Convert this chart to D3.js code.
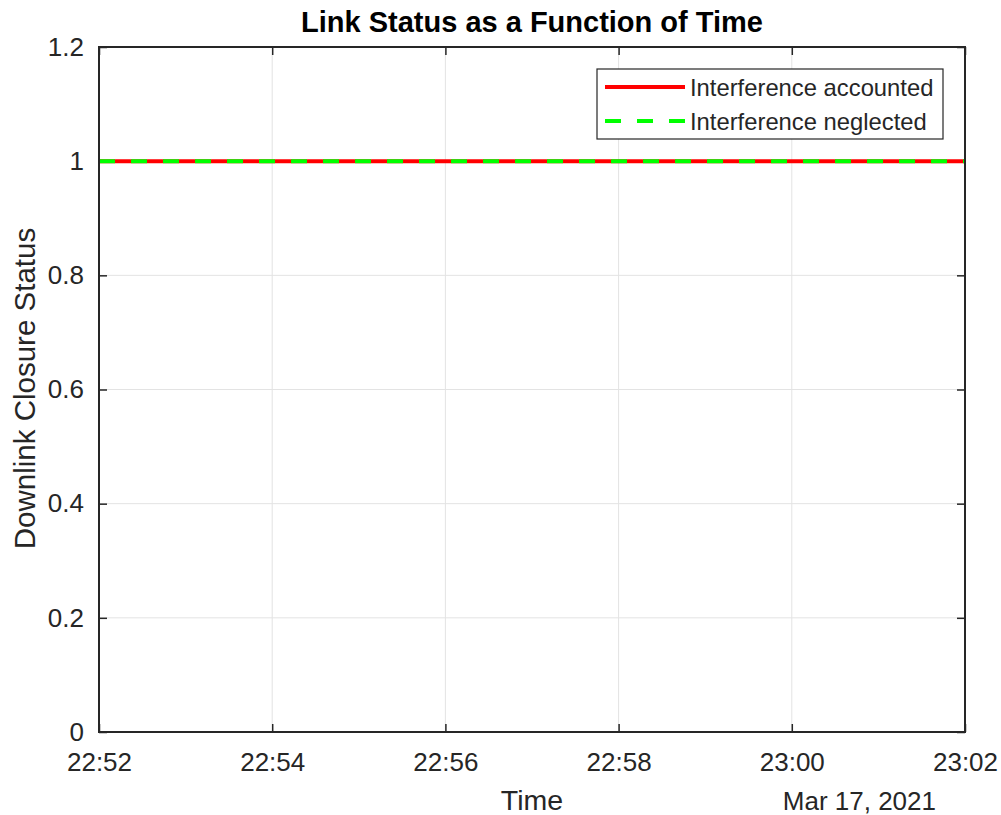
<!DOCTYPE html>
<html>
<head>
<meta charset="utf-8">
<script src="https://cdn.jsdelivr.net/npm/d3@7"></script>
<style>
  html, body { margin: 0; padding: 0; background: #fff; }
  svg { display: block; font-family: Arial, "Liberation Sans", Helvetica, sans-serif; }
</style>
</head>
<body>
<svg id="chart" width="1001" height="815"></svg>
<script>
// ---- Data ----
const times = [
  "2021-03-17T22:52:00Z", "2021-03-17T22:53:00Z", "2021-03-17T22:54:00Z",
  "2021-03-17T22:55:00Z", "2021-03-17T22:56:00Z", "2021-03-17T22:57:00Z",
  "2021-03-17T22:58:00Z", "2021-03-17T22:59:00Z", "2021-03-17T23:00:00Z",
  "2021-03-17T23:01:00Z", "2021-03-17T23:02:00Z"
];
const statusAccounted = [1, 1, 1, 1, 1, 1, 1, 1, 1, 1, 1];
const statusNeglected = [1, 1, 1, 1, 1, 1, 1, 1, 1, 1, 1];
const seriesNames = ["Interference accounted", "Interference neglected"];
const yTickValues = [0, 0.2, 0.4, 0.6, 0.8, 1, 1.2];
const yTickLabels = ["0", "0.2", "0.4", "0.6", "0.8", "1", "1.2"];
const xDomain = ["2021-03-17T22:52:00Z", "2021-03-17T23:02:00Z"];
const dateLabel = "Mar 17, 2021";
const titleText = "Link Status as a Function of Time";
const xLabelText = "Time";
const yLabelText = "Downlink Closure Status";

// ---- Layout ----
const W = 1001, H = 815;
const margin = { left: 99, right: 36, top: 47, bottom: 83 };
const iw = W - margin.left - margin.right;
const ih = H - margin.top - margin.bottom;
const axisColor = "#262626";
const gridColor = "#e3e3e3";

const svg = d3.select("#chart");
const g = svg.append("g").attr("transform", `translate(${margin.left},${margin.top})`);

const x = d3.scaleUtc().domain(xDomain.map(d => new Date(d))).range([0, iw]);
const y = d3.scaleLinear().domain([0, 1.2]).range([ih, 0]);
const xTicks = x.ticks(d3.utcMinute.every(2));
const fmt = d3.utcFormat("%H:%M");

// grid
g.append("g").selectAll("line").data(xTicks).join("line")
  .attr("x1", d => x(d)).attr("x2", d => x(d)).attr("y1", 0).attr("y2", ih)
  .attr("stroke", gridColor).attr("stroke-width", 1);
g.append("g").selectAll("line").data(yTickValues).join("line")
  .attr("x1", 0).attr("x2", iw).attr("y1", d => y(d)).attr("y2", d => y(d))
  .attr("stroke", gridColor).attr("stroke-width", 1);

// axes (ticks inward, box)
const tickLen = 8;
const xAxisB = d3.axisBottom(x).tickValues(xTicks).tickFormat(fmt).tickSizeInner(-tickLen).tickSizeOuter(0).tickPadding(21);
const xAxisT = d3.axisTop(x).tickValues(xTicks).tickFormat("").tickSizeInner(-tickLen).tickSizeOuter(0);
const yAxisL = d3.axisLeft(y).tickValues(yTickValues).tickFormat((d, i) => yTickLabels[i]).tickSizeInner(-tickLen).tickSizeOuter(0).tickPadding(15);
const yAxisR = d3.axisRight(y).tickValues(yTickValues).tickFormat("").tickSizeInner(-tickLen).tickSizeOuter(0);

function styleAxis(sel) {
  sel.select(".domain").remove();
  sel.selectAll(".tick line").attr("stroke", axisColor).attr("stroke-width", 1.5);
  sel.selectAll(".tick text").attr("fill", axisColor).style("font-size", "26px");
}
g.append("g").attr("transform", `translate(0,${ih})`).call(xAxisB).call(styleAxis);
g.append("g").call(xAxisT).call(styleAxis);
g.append("g").call(yAxisL).call(styleAxis);
g.append("g").attr("transform", `translate(${iw},0)`).call(yAxisR).call(styleAxis);

// lines
const dataA = times.map((t, i) => ({ t: new Date(t), v: statusAccounted[i] }));
const dataN = times.map((t, i) => ({ t: new Date(t), v: statusNeglected[i] }));
const line = d3.line().x(d => x(d.t)).y(d => y(d.v));
g.append("path").datum(dataA).attr("d", line)
  .attr("fill", "none").attr("stroke", "#ff0000").attr("stroke-width", 4);
g.append("path").datum(dataN).attr("d", line)
  .attr("fill", "none").attr("stroke", "#00ff00").attr("stroke-width", 4)
  .attr("stroke-dasharray", "16,16");

// box
g.append("rect").attr("x", 0).attr("y", 0).attr("width", iw).attr("height", ih)
  .attr("fill", "none").attr("stroke", axisColor).attr("stroke-width", 2);

// title and labels
svg.append("text").attr("x", margin.left + iw / 2).attr("y", 32)
  .attr("text-anchor", "middle").style("font-size", "29px").style("font-weight", "bold")
  .attr("fill", "#000").text(titleText);
svg.append("text").attr("x", margin.left + iw / 2).attr("y", 810)
  .attr("text-anchor", "middle").style("font-size", "28.5px")
  .attr("fill", axisColor).text(xLabelText);
svg.append("text").attr("x", 936).attr("y", 810)
  .attr("text-anchor", "end").style("font-size", "26px")
  .attr("fill", axisColor).text(dateLabel);
svg.append("text").attr("transform", `translate(35,${margin.top + ih / 2 - 1}) rotate(-90)`)
  .attr("text-anchor", "middle").style("font-size", "29.5px")
  .attr("fill", axisColor).text(yLabelText);

// legend
const lg = svg.append("g").attr("transform", "translate(597,69)");
lg.append("rect").attr("width", 346).attr("height", 70)
  .attr("fill", "#fff").attr("stroke", axisColor).attr("stroke-width", 1.2);
const entries = [
  { name: seriesNames[0], color: "#ff0000", dash: null, y: 18 },
  { name: seriesNames[1], color: "#00ff00", dash: "16,16", y: 52 }
];
entries.forEach(e => {
  lg.append("line").attr("x1", 8).attr("x2", 88).attr("y1", e.y).attr("y2", e.y)
    .attr("stroke", e.color).attr("stroke-width", 4)
    .attr("stroke-dasharray", e.dash);
  lg.append("text").attr("x", 93).attr("y", e.y).attr("dy", "0.36em")
    .style("font-size", "23.8px").attr("fill", axisColor).text(e.name);
});
</script>
</body>
</html>
